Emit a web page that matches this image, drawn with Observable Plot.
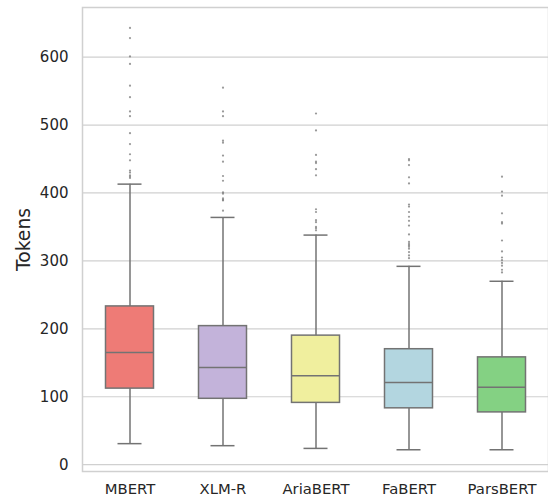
<!DOCTYPE html>
<html><head><meta charset="utf-8">
<script src="https://cdn.jsdelivr.net/npm/d3@7"></script>
<script src="https://cdn.jsdelivr.net/npm/@observablehq/plot@0.6"></script>
<style>
body{margin:0;background:#fff;}
#chart svg{font-family:"DejaVu Sans",sans-serif;}
</style>
</head><body><div id="chart"></div>
<script>
const models = ["MBERT", "XLM-R", "AriaBERT", "FaBERT", "ParsBERT"];
const colors = ["#EE7B76", "#C3B3DA", "#F0EF9E", "#B3D6E0", "#84D183"];
const whiskerLow = [31, 28, 24, 22, 22];
const q1 = [112, 97, 91, 83, 77];
const median = [165, 143, 131, 121, 114];
const q3 = [233, 204, 190, 170, 158];
const whiskerHigh = [413, 364, 338, 292, 270];
const outlierValues = [
  [643, 628, 601, 590, 558, 541, 520, 513, 488, 472, 457, 448, 433, 430, 426, 424, 422],
  [555, 520, 513, 477, 474, 455, 446, 425, 418, 401, 399, 392, 390, 389, 374],
  [517, 492, 456, 446, 444, 435, 426, 376, 372, 360, 357, 350, 348, 345],
  [450, 448, 441, 423, 414, 383, 380, 372, 365, 359, 352, 339, 328, 325, 323, 321, 318, 313, 308, 304],
  [424, 402, 396, 370, 357, 355, 330, 314, 305, 301, 297, 293, 287, 283]
];
const yTicks = [0, 100, 200, 300, 400, 500, 600];

const boxes = models.map((m, i) => ({
  model: m, color: colors[i], lo: whiskerLow[i], q1: q1[i], med: median[i], q3: q3[i], hi: whiskerHigh[i]
}));
const outliers = models.flatMap((m, i) => outlierValues[i].map(v => ({model: m, v})));

const edge = "#737373";
const chart = Plot.plot({
  width: 548,
  height: 502,
  marginLeft: 82,
  marginRight: 0,
  marginTop: 7,
  marginBottom: 31,
  style: {fontFamily: "DejaVu Sans, sans-serif", fontSize: "14.8px", color: "#262626", background: "#fff"},
  x: {type: "band", domain: models, padding: 0, label: null},
  y: {domain: [-10, 673], label: null},
  color: {type: "identity"},
  marks: [
    Plot.gridY(yTicks, {stroke: "#d0d0d0", strokeOpacity: 1, strokeWidth: 1.2}),
    Plot.frame({stroke: "#d0d0d0", strokeWidth: 1.5}),
    Plot.ruleX(boxes, {x: "model", y1: "lo", y2: "q1", stroke: edge, strokeWidth: 1.5}),
    Plot.ruleX(boxes, {x: "model", y1: "q3", y2: "hi", stroke: edge, strokeWidth: 1.5}),
    Plot.tickY(boxes, {x: "model", y: "lo", stroke: edge, strokeWidth: 1.5, insetLeft: 34.5, insetRight: 34.5}),
    Plot.tickY(boxes, {x: "model", y: "hi", stroke: edge, strokeWidth: 1.5, insetLeft: 34.5, insetRight: 34.5}),
    Plot.barY(boxes, {x: "model", y1: "q1", y2: "q3", fill: "color", stroke: edge, strokeWidth: 1.5, insetLeft: 22.5, insetRight: 22.5}),
    Plot.tickY(boxes, {x: "model", y: "med", stroke: edge, strokeWidth: 1.5, insetLeft: 22.5, insetRight: 22.5}),
    Plot.dot(outliers, {x: "model", y: "v", r: 1.1, fill: "#777", fillOpacity: 0.75, stroke: "none"}),
    Plot.axisY({ticks: yTicks, tickSize: 0, tickPadding: 14, label: null, fill: "#262626", fontSize: 15}),
    Plot.axisX({tickSize: 0, tickPadding: 12, label: null, fill: "#262626", fontSize: 14.8}),
    Plot.text(["Tokens"], {frameAnchor: "left", textAnchor: "middle", rotate: -90, dx: -59, fontSize: 18.8, fill: "#262626"})
  ]
});
document.getElementById("chart").appendChild(chart);
</script>
</body></html>
